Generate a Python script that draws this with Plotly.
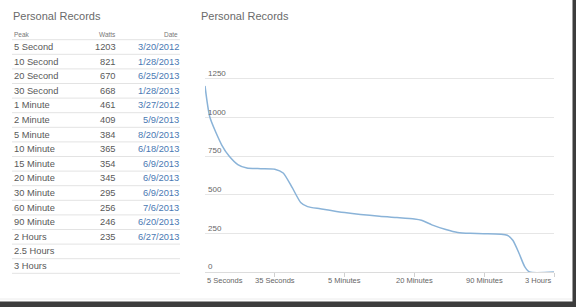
import plotly.graph_objects as go

# ---------------- data ----------------
peaks = ["5 Second", "10 Second", "20 Second", "30 Second", "1 Minute", "2 Minute",
         "5 Minute", "10 Minute", "15 Minute", "20 Minute", "30 Minute", "60 Minute",
         "90 Minute", "2 Hours", "2.5 Hours", "3 Hours"]
watts = [1203, 821, 670, 668, 461, 409, 384, 365, 354, 345, 295, 256, 246, 235, None, None]
dates = ["3/20/2012", "1/28/2013", "6/25/2013", "1/28/2013", "3/27/2012", "5/9/2013",
         "8/20/2013", "6/18/2013", "6/9/2013", "6/9/2013", "6/9/2013", "7/6/2013",
         "6/20/2013", "6/27/2013", "", ""]

# power-curve (position along duration axis, watts)
curve_pos = [0, 0.07, 0.24, 0.345, 0.47, 0.6, 0.8, 1.0, 1.12, 1.25, 1.37, 1.47, 1.65,
             2.0, 2.5, 2.75, 3.0, 3.1, 3.25, 3.45, 3.62, 3.8, 4.0, 4.33, 4.41, 4.5,
             4.58, 4.65, 5.0]
curve_watts = [1203, 1000, 821, 750, 695, 672, 668, 665, 640, 545, 450, 423, 409,
               384, 360, 352, 343, 335, 305, 275, 256, 250, 248, 238, 205, 120,
               35, 0, 0]

x_tick_pos = [0, 1, 2, 3, 4, 5]
x_tick_text = ["5 Seconds", "35 Seconds", "5 Minutes", "20 Minutes", "90 Minutes", "3 Hours"]
y_tick_vals = [0, 250, 500, 750, 1000, 1250, 1500]
y_tick_text = ["0", "250", "500", "750", "1000", "1250", ""]

W, H = 576, 307
FONT = "Liberation Sans, Arial, sans-serif"
TXT = "#595959"
BLUE = "#4a79b3"

def px(x):
    return x / W

def py(y):
    return 1 - y / H

fig = go.Figure()
fig.add_trace(go.Scatter(
    x=curve_pos, y=curve_watts, mode="lines",
    line=dict(color="#8ab3d8", width=1.5, shape="spline", smoothing=0.6),
    hoverinfo="skip", showlegend=False))

annotations = []
shapes = []

# titles
annotations.append(dict(x=px(11), y=py(16), xref="paper", yref="paper", text="Personal Records",
                        showarrow=False, xanchor="left", yanchor="middle",
                        font=dict(family=FONT, size=11, color="#6a6a6a")))
annotations.append(dict(x=px(199), y=py(16), xref="paper", yref="paper", text="Personal Records",
                        showarrow=False, xanchor="left", yanchor="middle",
                        font=dict(family=FONT, size=11, color="#6a6a6a")))

# table header
hdr_font = dict(family=FONT, size=6.5, color="#777777")
annotations.append(dict(x=px(12), y=py(34), xref="paper", yref="paper", text="Peak",
                        showarrow=False, xanchor="left", yanchor="middle", font=hdr_font))
annotations.append(dict(x=px(118), y=py(34), xref="paper", yref="paper", text="Watts",
                        showarrow=False, xanchor="right", yanchor="middle", font=hdr_font))
annotations.append(dict(x=px(180), y=py(34), xref="paper", yref="paper", text="Date",
                        showarrow=False, xanchor="right", yanchor="middle", font=hdr_font))

line_col = "#e3e3e3"
shapes.append(dict(type="line", xref="paper", yref="paper", x0=px(12), x1=px(180),
                   y0=py(39.7), y1=py(39.7), line=dict(color=line_col, width=1)))

row_h = 14.6
row_font = dict(family=FONT, size=9.3, color=TXT)
for i, (p, w, d) in enumerate(zip(peaks, watts, dates)):
    yc = 47 + row_h * i
    annotations.append(dict(x=px(12), y=py(yc), xref="paper", yref="paper", text=p,
                            showarrow=False, xanchor="left", yanchor="middle", font=row_font))
    if w is not None:
        annotations.append(dict(x=px(118), y=py(yc), xref="paper", yref="paper", text=str(w),
                                showarrow=False, xanchor="right", yanchor="middle", font=row_font))
    if d:
        annotations.append(dict(x=px(180.5), y=py(yc), xref="paper", yref="paper", text=d,
                                showarrow=False, xanchor="right", yanchor="middle",
                                font=dict(family=FONT, size=9.3, color=BLUE)))
    yl = 54.3 + row_h * i
    shapes.append(dict(type="line", xref="paper", yref="paper", x0=px(12), x1=px(180),
                       y0=py(yl), y1=py(yl), line=dict(color=line_col, width=1)))

# x tick labels (clamped inside the plot at the ends)
for i, (tp, tt) in enumerate(zip(x_tick_pos, x_tick_text)):
    anchor = "left" if i == 0 else ("right" if i == len(x_tick_pos) - 1 else "center")
    annotations.append(dict(x=tp, y=py(280), xref="x", yref="paper", text=tt,
                            showarrow=False, xanchor=anchor, yanchor="middle",
                            font=dict(family=FONT, size=7.5, color="#666666")))

# window shadow (screenshot frame)
shapes.append(dict(type="line", xref="paper", yref="paper", x0=0, x1=px(572), y0=py(299), y1=py(299),
                   line=dict(color="#ececec", width=1)))
shapes.append(dict(type="rect", xref="paper", yref="paper", x0=0, x1=1, y0=0, y1=py(301.5),
                   fillcolor="#3d3d3d", line=dict(width=0), layer="above"))
shapes.append(dict(type="rect", xref="paper", yref="paper", x0=px(572.5), x1=1, y0=0, y1=1,
                   fillcolor="#3d3d3d", line=dict(width=0), layer="above"))

fig.update_layout(
    width=W, height=H, margin=dict(l=0, r=0, t=0, b=0),
    paper_bgcolor="white", plot_bgcolor="white",
    xaxis=dict(domain=[px(205), px(554)], range=[0, 5], tickvals=x_tick_pos,
               showticklabels=False, ticks="outside", ticklen=4, tickcolor="#d0d0d0",
               showgrid=False, zeroline=False, showline=True, linecolor="#dcdcdc", linewidth=1,
               fixedrange=True),
    yaxis=dict(domain=[py(272), py(40)], range=[0, 1500], tickvals=y_tick_vals,
               ticktext=y_tick_text, ticklabelposition="inside top",
               tickfont=dict(family=FONT, size=8, color="#666666"),
               showgrid=True, gridcolor="#e6e6e6", gridwidth=1, zeroline=False,
               showline=False, ticks="", fixedrange=True),
    annotations=annotations, shapes=shapes, showlegend=False,
)

fig.write_html("out.html")
